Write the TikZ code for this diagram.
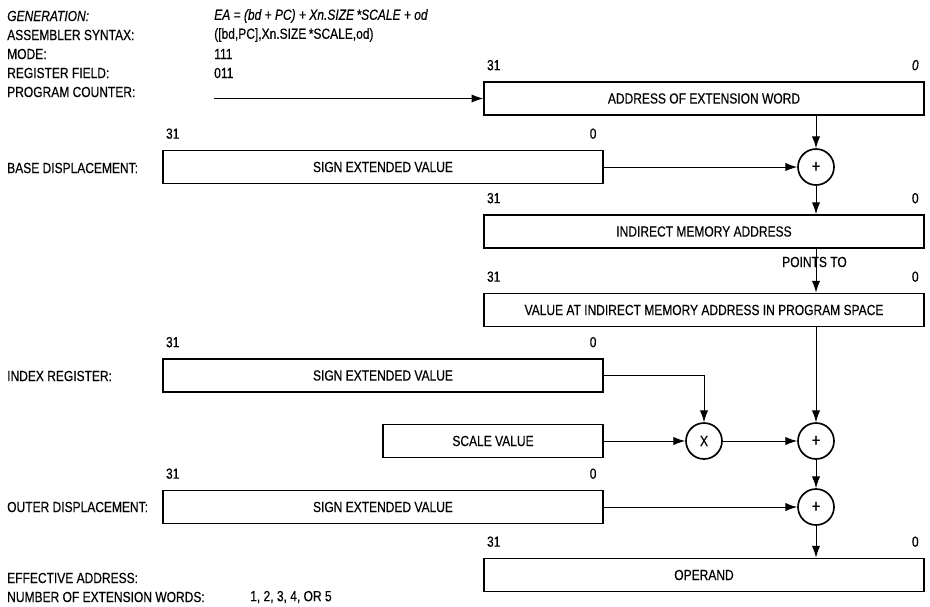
\documentclass[tikz,border=0pt]{standalone}
\usepackage{fontspec}
\setmainfont{Liberation Sans}[FakeStretch=0.82, FakeBold=0.4]
\usepackage{tikz}
\usetikzlibrary{arrows.meta, positioning, calc}
\tikzstyle{hdr} = [anchor=west, inner sep=0pt]
\tikzstyle{wordbox} = [rectangle, draw=black, line width=1.2pt, minimum height=1.0cm, inner sep=0pt]
\tikzstyle{longbox} = [wordbox, minimum width=13.2cm]
\tikzstyle{shortbox} = [wordbox, minimum width=13.2cm]
\tikzstyle{op} = [circle, draw=black, line width=1.4pt, minimum size=1.08cm, inner sep=0pt, font=\fontsize{15}{15}\selectfont]
\tikzstyle{bit} = [inner sep=0pt]
\tikzstyle{arrow} = [line width=0.8pt, -{Latex[length=10pt,width=7pt]}]

\begin{document}
\begin{tikzpicture}[x=0.03cm, y=-0.03cm, node distance=9pt and 3pt, font=\fontsize{12.5}{14}\selectfont]
    \useasboundingbox (0,0) rectangle (930,606);

    % header
    \node (gen) [hdr] at (7,16) {\itshape GENERATION:};
    \node (asm) [hdr] at (7,35) {ASSEMBLER SYNTAX:};
    \node (mode) [hdr] at (7,54) {MODE:};
    \node (reg) [hdr] at (7,73) {REGISTER FIELD:};
    \node (pc) [hdr] at (7,92) {PROGRAM COUNTER:};
    \node (genv) [hdr] at (214,16) {\itshape EA = (bd + PC) + Xn.SIZE\,*SCALE + od};
    \node (asmv) [hdr] at (214,35) {([bd,PC],Xn.SIZE\,*SCALE,od)};
    \node (modev) [hdr] at (214,54) {111};
    \node (regv) [hdr] at (214,73) {011};
    \coordinate (pcstart) at (214,98.5);

    % left side labels
    \node (bdl) [hdr] at (7,168) {BASE DISPLACEMENT:};
    \node (idxl) [hdr] at (7,376) {INDEX REGISTER:};
    \node (odl) [hdr] at (7,507) {OUTER DISPLACEMENT:};
    \node (eal) [hdr] at (7,578) {EFFECTIVE ADDRESS:};
    \node (nxl) [hdr] at (7,597) {NUMBER OF EXTENSION WORDS:};
    \node (nxv) [hdr] at (250,597) {1, 2, 3, 4, OR 5};

    % words
    \node (aew) [longbox] at (704,98.5) {ADDRESS OF EXTENSION WORD};
    \node (bdv) [shortbox] at (383,167) {SIGN EXTENDED VALUE};
    \node (ima) [longbox] at (704,231.5) {INDIRECT MEMORY ADDRESS};
    \node (ptr) [hdr] at (782,262) {POINTS TO};
    \node (val) [longbox] at (704,310) {VALUE AT INDIRECT MEMORY ADDRESS IN PROGRAM SPACE};
    \node (idx) [shortbox] at (383,375.5) {SIGN EXTENDED VALUE};
    \node (scl) [wordbox, minimum width=6.6cm] at (493,441) {SCALE VALUE};
    \node (odv) [shortbox] at (383,507) {SIGN EXTENDED VALUE};
    \node (opnd) [longbox] at (704,575) {OPERAND};

    % bit numbers
    \node (aew31) [bit, above right=of aew.north west] {31};
    \node (aew0) [bit, above left=of aew.north east, xshift=-2pt] {\itshape 0};
    \node (bdv31) [bit, above right=of bdv.north west] {31};
    \node (bdv0) [bit, above left=of bdv.north east, xshift=-3pt] {0};
    \node (ima31) [bit, above right=of ima.north west] {31};
    \node (ima0) [bit, above left=of ima.north east, xshift=-2pt] {0};
    \node (val31) [bit, above right=of val.north west] {31};
    \node (val0) [bit, above left=of val.north east, xshift=-2pt] {0};
    \node (idx31) [bit, above right=of idx.north west] {31};
    \node (idx0) [bit, above left=of idx.north east, xshift=-3pt] {0};
    \node (odv31) [bit, above right=of odv.north west] {31};
    \node (odv0) [bit, above left=of odv.north east, xshift=-3pt] {0};
    \node (opnd31) [bit, above right=of opnd.north west] {31};
    \node (opnd0) [bit, above left=of opnd.north east, xshift=-2pt] {0};

    % operators
    \node (add1) [op] at (816,167) {+};
    \node (mul) [op, font=\fontsize{12.5}{14}\selectfont] at (704,441) {X};
    \node (add2) [op] at (816,441) {+};
    \node (add3) [op] at (816,507) {+};

    \draw [arrow] (pcstart) -- (aew.west);
    \draw [arrow] (add1 |- aew.south) -- (add1);
    \draw [arrow] (bdv) -- (add1);
    \draw [arrow] (add1) -- (add1 |- ima.north);
    \draw [arrow] (add1 |- ima.south) -- (add1 |- val.north);
    \draw [arrow] (add2 |- val.south) -- (add2);
    \draw [arrow] (idx) -| (mul);
    \draw [arrow] (scl) -- (mul);
    \draw [arrow] (mul) -- (add2);
    \draw [arrow] (add2) -- (add3);
    \draw [arrow] (odv) -- (add3);
    \draw [arrow] (add3) -- (add3 |- opnd.north);
\end{tikzpicture}
\end{document}
